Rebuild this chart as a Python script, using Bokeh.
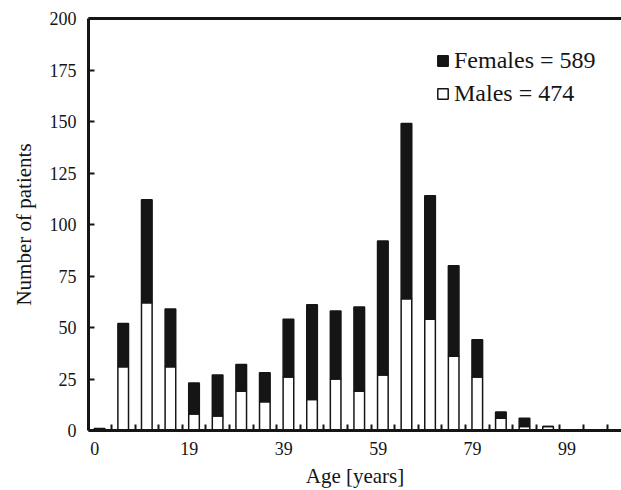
from bokeh.plotting import figure
from bokeh.models import ColumnDataSource, FixedTicker, LinearAxis, Legend, LegendItem
from bokeh.embed import file_html
from bokeh.resources import INLINE

# ---- data (5-year age groups, category index 0..19) ----
groups = list(range(20))
males = [0, 31, 62, 31, 8, 7, 19, 14, 26, 15, 25, 19, 27, 64, 54, 36, 26, 6, 2, 2]
females = [1, 21, 50, 28, 15, 20, 13, 14, 28, 46, 33, 41, 65, 85, 60, 44, 18, 3, 4, 0]
x_tick_cats = [0, 4, 8, 12, 16, 20]
x_tick_labels = ["0", "19", "39", "59", "79", "99"]
y_ticks = [0, 25, 50, 75, 100, 125, 150, 175, 200]

totals = [m + f for m, f in zip(males, females)]
src = ColumnDataSource(dict(x=groups, males=males, females=females, totals=totals))

FONT = "Liberation Serif"
INK = "#151515"

p = figure(width=621, height=490, x_range=(-0.47, 22.11), y_range=(0, 200),
           output_backend="svg", toolbar_location=None,
           min_border_left=88, min_border_right=0, min_border_top=18, min_border_bottom=0)
p.outline_line_color = None
p.xgrid.visible = False
p.ygrid.visible = False

bw = 0.45
rm = p.vbar(x="x", bottom=0, top="males", width=bw, source=src,
            fill_color="white", line_color=INK, line_width=1.5)
rf = p.vbar(x="x", bottom="males", top="totals", width=bw, source=src,
            fill_color=INK, line_color=INK, line_width=1.5)

# x axis
shift = -0.2
xt = [c + shift for c in x_tick_cats]
p.xaxis.ticker = FixedTicker(ticks=xt, minor_ticks=[g + 0.5 for g in range(23)])
p.xaxis.major_label_overrides = {t: l for t, l in zip(xt, x_tick_labels)}
p.xaxis.major_tick_in = 0
p.xaxis.major_tick_out = 0
p.xaxis.minor_tick_in = 6
p.xaxis.minor_tick_out = 0
p.xaxis.minor_tick_line_width = 2
p.xaxis.minor_tick_line_color = INK
p.xaxis.axis_line_width = 3
p.xaxis.axis_line_color = INK
p.xaxis.axis_label = "Age [years]"
p.xaxis.major_label_standoff = 11
p.xaxis.axis_label_standoff = 6

# y axis
p.yaxis.ticker = FixedTicker(ticks=y_ticks)
p.yaxis.major_tick_in = 6
p.yaxis.major_tick_out = 0
p.yaxis.major_tick_line_width = 2
p.yaxis.major_tick_line_color = INK
p.yaxis.minor_tick_line_color = None
p.yaxis.axis_line_width = 3
p.yaxis.axis_line_color = INK
p.yaxis.axis_label = "Number of patients"
p.yaxis.major_label_standoff = 12
p.yaxis.axis_label_standoff = 11

for ax in (p.xaxis[0], p.yaxis[0]):
    ax.major_label_text_font = FONT
    ax.major_label_text_font_size = "18px"
    ax.major_label_text_font_style = "normal"
    ax.major_label_text_color = INK
    ax.axis_label_text_font = FONT
    ax.axis_label_text_font_size = "21px"
    ax.axis_label_text_font_style = "normal"
    ax.axis_label_text_color = INK

# top frame line
top = LinearAxis(ticker=FixedTicker(ticks=[]), axis_line_width=3, axis_line_color=INK,
                 major_tick_in=0, major_tick_out=0, minor_tick_in=0, minor_tick_out=0,
                 major_label_text_font_size="0px")
p.add_layout(top, "above")

legend = Legend(items=[LegendItem(label=f"Females = {sum(females)}", renderers=[rf]),
                       LegendItem(label=f"Males = {sum(males)}", renderers=[rm])],
                location=(348, 323), padding=0, margin=0, spacing=6,
                glyph_width=13, glyph_height=13, label_standoff=5,
                label_text_font=FONT, label_text_font_size="24px", label_text_color=INK,
                background_fill_alpha=0, border_line_color=None)
p.add_layout(legend, "center")

open("out.html", "w").write(file_html(p, INLINE))
